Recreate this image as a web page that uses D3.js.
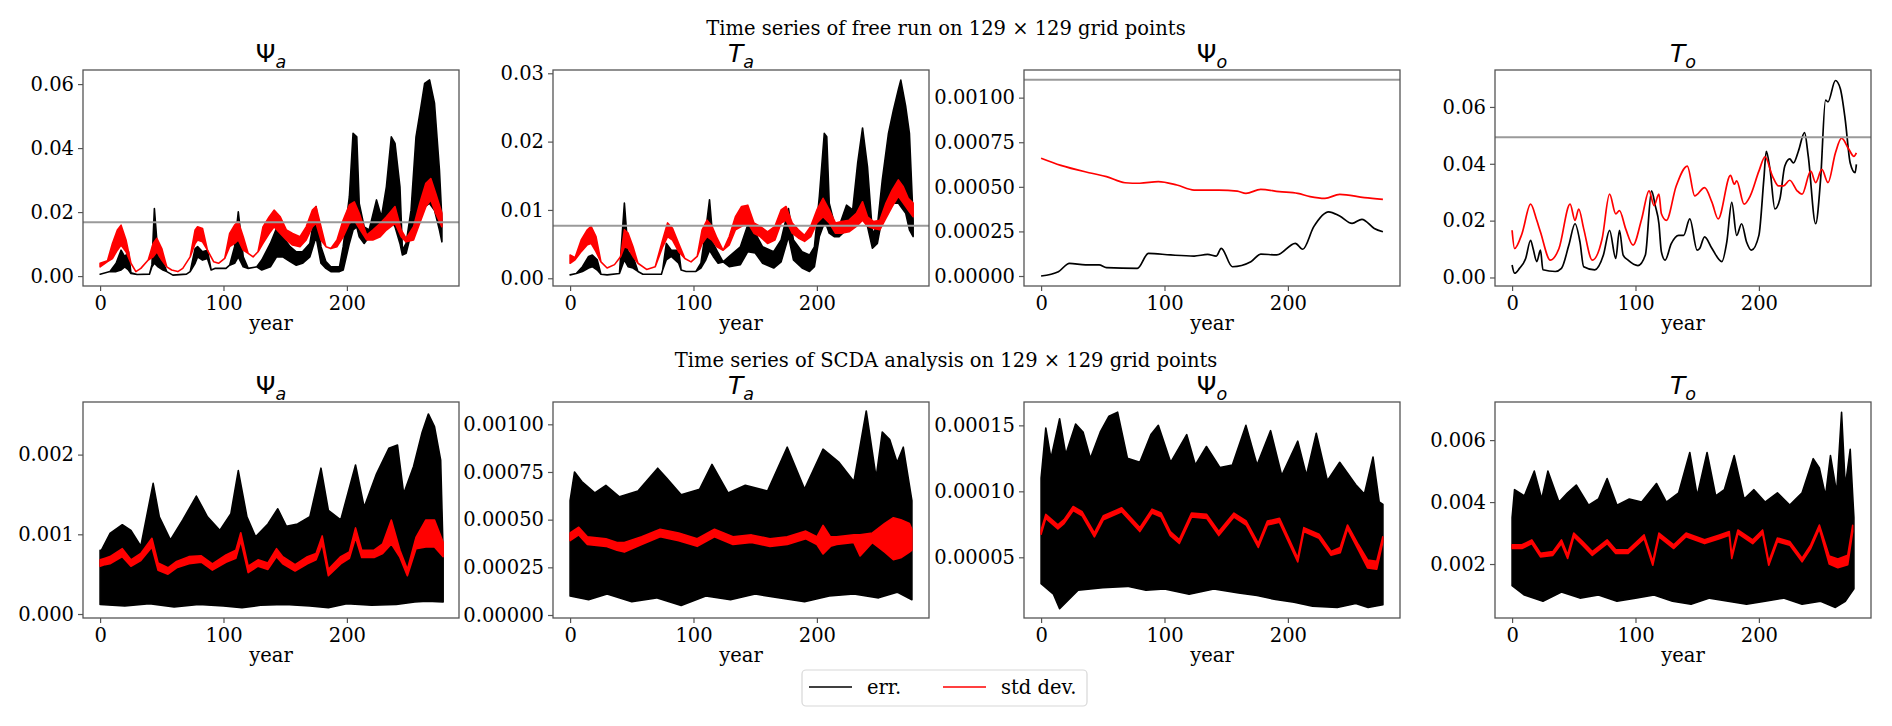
<!DOCTYPE html>
<html>
<head>
<meta charset="utf-8">
<script src="https://cdn.jsdelivr.net/npm/d3@7"></script>
<style>
  body { margin: 0; background: #fff; }
  svg { display: block; }
</style>
</head>
<body>
<svg id="chart"></svg>
<script>
// ---- data (year, value) ----
const xTicks = [0, 100, 200];
const varNames = [['Ψ', 'a', false], ['T', 'a', true], ['Ψ', 'o', false], ['T', 'o', true]];
const rowTitles = ['Time series of free run on 129 × 129 grid points',
                   'Time series of SCDA analysis on 129 × 129 grid points'];
const legendLabels = ['err.', 'std dev.'];

// free run, [year, low, high] of the fast oscillation band
const psiAFreeErr = [[0,.0006,.0006],[8,.0014,.0014],[13,.0014,.0040],[17,.0019,.0081],[20,.0029,.0060],[23,.0019,.0076],[25,.0008,.0010],[30,.0005,.0005],[40,.0006,.0006],[42,.0029,.0035],[44,.0040,.0211],[47,.0029,.0060],[51,.0019,.0045],[54,.0014,.0014],[59,.0003,.0003],[70,.0006,.0006],[73,.0014,.0014],[77,.0040,.0086],[79,.0060,.0092],[83,.0050,.0076],[87,.0055,.0081],[90,.0019,.0019],[93,.0024,.0024],[102,.0024,.0024],[105,.0034,.0034],[109,.0040,.0092],[112,.0060,.0201],[116,.0029,.0060],[120,.0024,.0024],[127,.0029,.0029],[131,.0019,.0050],[138,.0029,.0102],[143,.0060,.0149],[148,.0060,.0123],[154,.0045,.0092],[159,.0034,.0076],[164,.0040,.0076],[170,.0060,.0102],[175,.0123,.0217],[179,.0040,.0092],[183,.0024,.0045],[187,.0014,.0029],[194,.0014,.0029],[197,.0019,.0092],[202,.0102,.0248],[205,.0144,.0446],[208,.0154,.0435],[210,.0123,.0227],[214,.0102,.0154],[218,.0123,.0144],[224,.0133,.0238],[228,.0154,.0185],[232,.0165,.0279],[236,.0175,.0435],[239,.0154,.0415],[243,.0102,.0279],[245,.0066,.0081],[248,.0071,.0102],[252,.0133,.0206],[256,.0165,.0435],[260,.0185,.0529],[263,.0217,.0602],[267,.0227,.0613],[271,.0206,.0540],[275,.0144,.0331],[277,.0107,.0175]];
const psiAFreeStd = [[0,.0029,.0040],[6,.0045,.0048],[10,.0055,.0102],[14,.0081,.0144],[17,.0097,.0159],[21,.0076,.0113],[25,.0040,.0040],[29,.0014,.0014],[33,.0024,.0024],[39,.0050,.0050],[43,.0060,.0102],[46,.0076,.0118],[50,.0050,.0086],[54,.0029,.0029],[58,.0019,.0019],[63,.0014,.0014],[67,.0024,.0024],[73,.0060,.0060],[77,.0102,.0144],[79,.0113,.0154],[83,.0107,.0149],[87,.0081,.0081],[92,.0045,.0045],[96,.0040,.0040],[101,.0055,.0055],[105,.0092,.0133],[109,.0102,.0159],[112,.0113,.0170],[116,.0081,.0123],[120,.0071,.0071],[124,.0060,.0060],[128,.0076,.0076],[132,.0102,.0154],[137,.0133,.0185],[141,.0154,.0206],[146,.0133,.0185],[151,.0113,.0144],[156,.0097,.0133],[162,.0092,.0123],[167,.0113,.0154],[172,.0154,.0206],[175,.0165,.0217],[179,.0113,.0154],[183,.0092,.0092],[187,.0086,.0086],[192,.0092,.0113],[197,.0123,.0175],[202,.0165,.0222],[206,.0175,.0232],[210,.0149,.0196],[216,.0113,.0128],[221,.0113,.0144],[227,.0123,.0165],[232,.0144,.0185],[239,.0165,.0217],[244,.0123,.0144],[248,.0107,.0118],[254,.0113,.0154],[259,.0165,.0227],[264,.0217,.0290],[268,.0238,.0305],[272,.0196,.0258],[277,.0154,.0196]];

const taFreeErr = [[0,.0005,.0005],[5,.0007,.0007],[10,.0010,.0017],[15,.0015,.0032],[18,.0017,.0034],[22,.0012,.0027],[25,.0006,.0006],[30,.0005,.0005],[40,.0007,.0007],[44,.0027,.0110],[47,.0017,.0039],[51,.0015,.0032],[55,.0010,.0010],[59,.0006,.0006],[74,.0006,.0006],[75,.0012,.0012],[78,.0027,.0051],[82,.0032,.0041],[88,.0022,.0041],[90,.0012,.0012],[94,.0010,.0010],[102,.0010,.0010],[106,.0015,.0022],[110,.0027,.0071],[113,.0041,.0115],[116,.0032,.0051],[120,.0022,.0037],[124,.0024,.0024],[129,.0017,.0032],[138,.0020,.0046],[144,.0039,.0078],[150,.0037,.0066],[156,.0022,.0046],[165,.0015,.0039],[171,.0024,.0056],[177,.0061,.0102],[181,.0027,.0056],[188,.0015,.0039],[194,.0010,.0034],[198,.0017,.0046],[202,.0061,.0120],[206,.0081,.0212],[208,.0076,.0207],[210,.0066,.0110],[214,.0061,.0081],[218,.0061,.0076],[224,.0071,.0107],[229,.0076,.0100],[233,.0081,.0168],[237,.0090,.0220],[241,.0076,.0163],[245,.0044,.0066],[249,.0051,.0076],[253,.0090,.0144],[258,.0100,.0212],[262,.0110,.0246],[266,.0110,.0276],[268,.0105,.0290],[272,.0095,.0251],[275,.0071,.0212],[278,.0061,.0085]];
const taFreeStd = [[0,.0022,.0034],[4,.0027,.0030],[9,.0039,.0056],[14,.0049,.0071],[17,.0051,.0076],[21,.0039,.0061],[25,.0024,.0024],[30,.0015,.0015],[36,.0020,.0020],[41,.0032,.0032],[44,.0046,.0071],[47,.0044,.0066],[51,.0032,.0046],[55,.0022,.0022],[62,.0013,.0013],[69,.0017,.0017],[75,.0046,.0056],[79,.0061,.0081],[83,.0056,.0073],[88,.0039,.0051],[93,.0029,.0029],[98,.0024,.0024],[103,.0032,.0032],[107,.0051,.0071],[111,.0061,.0085],[115,.0056,.0076],[119,.0046,.0059],[124,.0041,.0041],[129,.0049,.0061],[134,.0071,.0090],[139,.0076,.0105],[144,.0081,.0107],[149,.0066,.0081],[154,.0061,.0076],[160,.0051,.0068],[166,.0056,.0076],[171,.0081,.0100],[175,.0085,.0105],[180,.0066,.0081],[185,.0059,.0071],[190,.0054,.0063],[195,.0061,.0076],[200,.0081,.0100],[205,.0090,.0117],[210,.0081,.0100],[215,.0066,.0081],[220,.0066,.0083],[226,.0068,.0085],[232,.0076,.0095],[237,.0085,.0112],[241,.0076,.0090],[246,.0073,.0083],[251,.0071,.0085],[256,.0088,.0110],[261,.0105,.0129],[266,.0120,.0144],[270,.0110,.0134],[274,.0100,.0117],[278,.0090,.0110]];

const psiOFreeErr = [[0,0],[14,.000024],[23,.000071],[36,.000062],[47,.000062],[53,.000047],[78,.000043],[87,.000127],[105,.000118],[124,.000112],[135,.000121],[142,.000112],[146,.000155],[155,.000052],[170,.00008],[178,.000123],[191,.000118],[206,.000183],[212,.00015],[221,.000277],[233,.00036],[242,.000336],[252,.000295],[260,.000318],[270,.000267],[277,.000248]];
const psiOFreeStd = [[0,.00066],[16,.00062],[41,.000576],[53,.000557],[68,.000523],[80,.00052],[95,.000529],[110,.00051],[124,.000482],[144,.000482],[159,.000476],[166,.000463],[178,.000486],[193,.000473],[208,.000463],[218,.000445],[230,.000435],[242,.000458],[262,.00044],[277,.00043]];

const toFreeErr = [[0,.0044],[2,.0015],[6,.0032],[11,.0067],[15,.0131],[17,.0102],[20,.0056],[23,.0096],[25,.0027],[35,.0021],[40,.0032],[46,.0114],[51,.0189],[55,.0125],[58,.0038],[67,.0027],[74,.0079],[79,.0166],[84,.0067],[87,.0166],[90,.0079],[94,.0061],[102,.0042],[108,.0079],[113,.0305],[116,.0253],[119,.0189],[121,.0090],[124,.0061],[129,.0119],[135,.0148],[139,.0148],[144,.0206],[150,.0096],[152,.0102],[156,.0143],[162,.0102],[170,.0056],[174,.0125],[178,.0264],[182,.0148],[186,.0189],[190,.0125],[194,.0096],[200,.0148],[204,.0345],[206,.0444],[209,.0380],[213,.0241],[217,.0276],[221,.0392],[225,.0417],[228,.0403],[232,.0444],[237,.0510],[240,.0427],[246,.0189],[250,.0345],[254,.0624],[256,.0618],[262,.0693],[266,.0664],[270,.0554],[274,.0403],[278,.0369],[279,.0398]];
const toFreeStd = [[0,.0166],[2,.0102],[8,.0154],[15,.0258],[20,.0201],[23,.0160],[31,.0061],[38,.0102],[47,.0258],[51,.0201],[54,.0241],[58,.0172],[65,.0061],[73,.0137],[79,.0293],[84,.0224],[87,.0235],[92,.0172],[98,.0114],[105,.0206],[111,.0305],[115,.0253],[119,.0293],[121,.0224],[125,.0201],[133,.0322],[142,.0392],[148,.0287],[156,.0316],[162,.0264],[167,.0206],[177,.0359],[180,.0328],[182,.0340],[188,.0258],[193,.0287],[200,.0374],[205,.0424],[211,.0357],[216,.0322],[220,.0322],[225,.0342],[231,.0305],[235,.0293],[242,.0374],[246,.0334],[251,.0380],[256,.0334],[262,.0438],[267,.0490],[273,.0450],[277,.0426],[279,.0438]];

// SCDA analysis: upper / lower envelope of the noisy error, band of the std dev
const psiAScdaErrUp = [[0,.0008],[1,.00080],[8,.00101],[18,.00112],[25,.00105],[33,.00085],[43,.00164],[48,.00122],[57,.00093],[67,.00118],[78,.00148],[87,.00122],[97,.00105],[106,.00126],[112,.0018],[119,.00122],[126,.00097],[136,.00113],[144,.00132],[151,.0011],[160,.00113],[170,.00122],[179,.00183],[185,.0013],[195,.00118],[207,.00187],[214,.00134],[224,.00176],[234,.00208],[241,.00212],[246,.00151],[254,.00185],[261,.00228],[266,.00251],[271,.00235],[276,.00193],[278,.00076]];
const psiAScdaErrLow = [[0,.00012],[20,.00010],[40,.00013],[60,.00009],[80,.00012],[100,.00010],[115,.00008],[130,.00011],[150,.00012],[170,.00010],[185,.00008],[200,.00013],[220,.00011],[240,.00012],[255,.00015],[265,.00016],[278,.00015]];
const psiAScdaStd = [[0,.00060,.00068],[4,.00062,.00070],[8,.00063,.00072],[18,.00072,.00082],[25,.00060,.00068],[33,.00067,.00076],[42,.00084,.00095],[47,.00055,.00064],[55,.00050,.00058],[62,.00058,.00066],[72,.00063,.00072],[82,.00065,.00073],[91,.00055,.00063],[102,.00065,.00074],[110,.00070,.00080],[114,.00092,.00102],[120,.00052,.00060],[128,.00060,.00068],[136,.00056,.00064],[143,.00072,.00082],[148,.00063,.00072],[158,.00054,.00062],[168,.00063,.00072],[175,.00068,.00076],[180,.00088,.00098],[185,.00048,.00056],[195,.00063,.00072],[202,.00070,.00078],[207,.00096,.00108],[212,.00071,.00080],[222,.00071,.00080],[229,.00076,.00088],[236,.00088,.00118],[243,.00071,.00080],[249,.00048,.00056],[256,.00082,.00096],[264,.00084,.00118],[271,.00084,.00118],[278,.00072,.00090]];

const taScdaErrUp = [[0,.00060],[3.6,.00075],[9.5,.00070],[20,.00064],[29,.00068],[40,.00062],[55,.00065],[71,.00077],[78,.00072],[90,.00063],[105,.00066],[115,.00079],[128,.00064],[142,.00068],[160,.00065],[176,.00088],[190,.00066],[205,.00087],[218,.00080],[230,.00070],[240,.00107],[248,.00072],[253,.00096],[259,.00092],[265,.00080],[270,.00088],[275,.00068],[277,.00060]];
const taScdaErrLow = [[0,.00010],[15,.00008],[30,.00011],[50,.00007],[70,.00009],[90,.00005],[110,.00010],[130,.00008],[150,.00011],[170,.00009],[190,.00007],[210,.00010],[230,.00011],[250,.00009],[265,.00012],[277,.00008]];
const taScdaStd = [[0,.00039,.00043],[7,.00042,.00046],[14,.00037,.00041],[29,.00036,.00040],[38,.00034,.00038],[44,.00033,.00038],[58,.00037,.00041],[73,.00041,.00045],[88,.00039,.00043],[103,.00036,.00040],[117,.00041,.00045],[132,.00037,.00041],[147,.00038,.00042],[162,.00036,.00040],[176,.00037,.00041],[191,.00040,.00044],[200,.00037,.00041],[205,.00032,.00047],[211,.00036,.00041],[216,.00037,.00041],[230,.00038,.00042],[235,.00031,.00042],[245,.00038,.00043],[255,.00033,.00048],[262,.00029,.00051],[268,.00030,.00050],[275,.00033,.00048],[277,.00034,.00045]];

const psiOScdaErrUp = [[0,.00011],[3.8,.000148],[8,.000125],[15,.000155],[20,.000128],[28,.000151],[34,.000145],[40,.000125],[48,.000145],[55,.000157],[62,.00016],[70,.000125],[80,.000122],[89,.000143],[95,.00015],[105,.000122],[118,.000143],[125,.00012],[134,.000134],[145,.000118],[155,.00012],[166,.00015],[175,.00012],[186,.000146],[195,.000112],[208,.000138],[215,.000112],[223,.000144],[232,.000108],[242,.000122],[255,.000105],[262,.000098],[269,.000126],[274,.000092],[277,.00009]];
const psiOScdaErrLow = [[0,.00003],[10,.000022],[15,.000011],[30,.000025],[50,.000027],[70,.000028],[85,.000025],[100,.000026],[120,.000022],[140,.000026],[160,.000023],[175,.000021],[190,.000018],[205,.000016],[220,.000013],[240,.000012],[255,.000015],[265,.000012],[277,.000014]];
const psiOScdaStd = [[0,.0000675,.0000705],[3.8,.0000795,.0000825],[13.6,.0000715,.0000745],[18.6,.0000755,.0000785],[26,.0000855,.0000885],[33.3,.0000815,.0000845],[43.2,.0000655,.0000685],[50.5,.0000785,.0000815],[65.3,.0000845,.0000875],[80,.0000695,.0000725],[89.9,.0000835,.0000865],[97.3,.0000805,.0000835],[104.7,.0000665,.0000695],[112,.0000605,.0000635],[121.9,.0000805,.0000835],[134.2,.0000795,.0000825],[144,.0000665,.0000695],[156.3,.0000805,.0000835],[166.2,.0000745,.0000775],[176,.0000575,.0000605],[183.4,.0000745,.0000775],[193.2,.0000765,.0000795],[200.6,.0000615,.0000645],[208,.0000465,.0000495],[212.9,.0000695,.0000725],[225.2,.0000645,.0000675],[235,.0000515,.0000545],[242.4,.0000535,.0000575],[248.3,.0000715,.0000745],[257.2,.0000555,.0000595],[264.6,.000042,.000048],[272,.000041,.000047],[276.9,.0000615,.0000655]];

const toScdaErrUp = [[0,.0035],[2,.0044],[10,.0042],[18,.0050],[24,.0041],[29,.0050],[38,.0040],[45,.0043],[52,.00455],[62,.0039],[70,.0041],[77,.00476],[85,.0039],[95,.0041],[105,.0040],[117,.0046],[125,.0040],[135,.0043],[144,.0056],[150,.0042],[158,.0056],[165,.0042],[172,.0044],[180,.0055],[188,.0041],[196,.0044],[205,.0040],[215,.0043],[225,.0039],[235,.0043],[244,.0054],[249,.0051],[254,.0042],[258,.0055],[263,.0043],[267,.0069],[270,.0045],[274,.0057],[277,.0035]];
const toScdaErrLow = [[0,.0013],[10,.0010],[25,.0008],[40,.0011],[55,.0009],[70,.0010],[85,.0008],[100,.0009],[115,.0010],[130,.0008],[145,.0007],[160,.0009],[175,.0008],[190,.0007],[205,.0008],[220,.0009],[235,.0007],[250,.0008],[262,.0006],[270,.0008],[277,.0012]];
const toScdaStd = [[0,.00250,.00262],[8,.00250,.00262],[16,.00266,.00278],[23,.00223,.00235],[33,.00228,.00240],[40,.00266,.00278],[45,.00218,.00230],[50,.00288,.00300],[57,.00261,.00273],[65,.00228,.00240],[77,.00266,.00278],[84,.00234,.00246],[94,.00234,.00246],[107,.00282,.00294],[114,.00196,.00208],[119,.00288,.00300],[131,.00250,.00262],[141,.00288,.00300],[156,.00266,.00278],[168,.00282,.00294],[176,.00293,.00305],[178,.00218,.00230],[183,.00298,.00310],[195,.00266,.00278],[203,.00298,.00310],[208,.00196,.00208],[215,.00272,.00284],[225,.00261,.00273],[235,.00207,.00219],[242,.00250,.00262],[249,.00314,.00326],[257,.00200,.00226],[264,.00188,.00216],[272,.00198,.00228],[276,.00305,.00325]];

const yTicksPsiAFree = [0, 0.02, 0.04, 0.06];
const yTicksTaFree = [0, 0.01, 0.02, 0.03];
const yTicksPsiOFree = [0, 0.00025, 0.0005, 0.00075, 0.001];
const yTicksToFree = [0, 0.02, 0.04, 0.06];
const yTicksPsiAScda = [0, 0.001, 0.002];
const yTicksTaScda = [0, 0.00025, 0.0005, 0.00075, 0.001];
const yTicksPsiOScda = [0.00005, 0.0001, 0.00015];
const yTicksToScda = [0.002, 0.004, 0.006];

// reference level drawn in grey on the free run panels
const refLevels = [0.0168, 0.0077, 0.0011, 0.0493];

// ---- layout ----
const width = 1892, height = 726;
const colX = [83, 553, 1024, 1495];
const rowY = [70, 402];
const pw = 376, ph = 216;
const xDomain = [-13.85, 290.85];
const serif = '"DejaVu Serif", serif';
const fs = 19.5;

const panels = [
  { row: 0, col: 0, dom: [-0.0031, 0.0644], ticks: yTicksPsiAFree, fmt: '.2f', ref: refLevels[0],
    err: { kind: 'band', data: psiAFreeErr }, std: { kind: 'band', data: psiAFreeStd } },
  { row: 0, col: 1, dom: [-0.00113, 0.03048], ticks: yTicksTaFree, fmt: '.2f', ref: refLevels[1],
    err: { kind: 'band', data: taFreeErr }, std: { kind: 'band', data: taFreeStd } },
  { row: 0, col: 2, dom: [-0.000056, 0.001155], ticks: yTicksPsiOFree, fmt: '.5f', ref: refLevels[2],
    err: { kind: 'line', data: psiOFreeErr }, std: { kind: 'line', data: psiOFreeStd } },
  { row: 0, col: 3, dom: [-0.003, 0.0730], ticks: yTicksToFree, fmt: '.2f', ref: refLevels[3],
    err: { kind: 'line', data: toFreeErr }, std: { kind: 'line', data: toFreeStd } },
  { row: 1, col: 0, dom: [-0.00005, 0.00266], ticks: yTicksPsiAScda, fmt: '.3f',
    err: { kind: 'env', up: psiAScdaErrUp, low: psiAScdaErrLow }, std: { kind: 'band', data: psiAScdaStd } },
  { row: 1, col: 1, dom: [-0.0000157, 0.001117], ticks: yTicksTaScda, fmt: '.5f',
    err: { kind: 'env', up: taScdaErrUp, low: taScdaErrLow }, std: { kind: 'band', data: taScdaStd } },
  { row: 1, col: 2, dom: [0.000004, 0.0001677], ticks: yTicksPsiOScda, fmt: '.5f',
    err: { kind: 'env', up: psiOScdaErrUp, low: psiOScdaErrLow }, std: { kind: 'band', data: psiOScdaStd } },
  { row: 1, col: 3, dom: [0.000258, 0.00723], ticks: yTicksToScda, fmt: '.3f',
    err: { kind: 'env', up: toScdaErrUp, low: toScdaErrLow }, std: { kind: 'band', data: toScdaStd } },
];

const svg = d3.select('#chart').attr('width', width).attr('height', height);
svg.append('rect').attr('width', width).attr('height', height).attr('fill', '#fff');
const defs = svg.append('defs');

function drawSeries(g, s, color, x, y) {
  if (s.kind === 'line') {
    const line = d3.line().curve(d3.curveMonotoneX).x(d => x(d[0])).y(d => y(d[1]));
    g.append('path').attr('d', line(s.data))
      .attr('fill', 'none').attr('stroke', color).attr('stroke-width', 1.7)
      .attr('stroke-linejoin', 'round');
    return;
  }
  // closed band: upper edge forwards, lower edge back
  let up, low;
  if (s.kind === 'band') {
    up = s.data.map(d => [d[0], d[2]]);
    low = s.data.map(d => [d[0], d[1]]);
  } else {
    up = s.up;
    low = s.low;
  }
  const line = d3.line().x(d => x(d[0])).y(d => y(d[1]));
  g.append('path').attr('d', line(up.concat(low.slice().reverse())) + 'Z')
    .attr('fill', color).attr('stroke', color).attr('stroke-width', 1.6)
    .attr('stroke-linejoin', 'round');
}

panels.forEach((p, i) => {
  const x0 = colX[p.col], y0 = rowY[p.row];
  const x = d3.scaleLinear().domain(xDomain).range([x0, x0 + pw]);
  const y = d3.scaleLinear().domain(p.dom).range([y0 + ph, y0]);

  defs.append('clipPath').attr('id', 'clip' + i)
    .append('rect').attr('x', x0).attr('y', y0).attr('width', pw).attr('height', ph);

  const plot = svg.append('g').attr('clip-path', `url(#clip${i})`);
  drawSeries(plot, p.err, '#000', x, y);
  drawSeries(plot, p.std, '#ff0000', x, y);
  if (p.ref !== undefined) {
    plot.append('line')
      .attr('x1', x0).attr('x2', x0 + pw).attr('y1', y(p.ref)).attr('y2', y(p.ref))
      .attr('stroke', '#9a9a9a').attr('stroke-width', 2);
  }

  // frame
  svg.append('rect').attr('x', x0).attr('y', y0).attr('width', pw).attr('height', ph)
    .attr('fill', 'none').attr('stroke', '#555').attr('stroke-width', 1.3);

  // axes
  const xAxis = svg.append('g').attr('transform', `translate(0,${y0 + ph})`)
    .call(d3.axisBottom(x).tickValues(xTicks).tickSize(5).tickPadding(5).tickFormat(d3.format('d')));
  const yAxis = svg.append('g').attr('transform', `translate(${x0},0)`)
    .call(d3.axisLeft(y).tickValues(p.ticks).tickSize(5).tickPadding(4).tickFormat(d3.format(p.fmt)));
  [xAxis, yAxis].forEach(a => {
    a.select('.domain').remove();
    a.attr('font-family', serif).attr('font-size', fs).attr('color', '#555');
    a.selectAll('text').attr('fill', '#000');
    a.selectAll('line').attr('stroke-width', 1.2);
  });

  // panel title, mathtext style: symbol plus italic subscript
  const name = varNames[p.col];
  const t = svg.append('text').attr('x', x0 + pw / 2).attr('y', y0 - 8)
    .attr('text-anchor', 'middle').attr('font-family', '"DejaVu Sans", sans-serif')
    .attr('font-size', 25).attr('fill', '#000');
  t.append('tspan').attr('font-style', name[2] ? 'italic' : 'normal').text(name[0]);
  t.append('tspan').attr('font-style', 'italic').attr('font-size', 17.5).attr('dy', 6).text(name[1]);

  svg.append('text').attr('x', x0 + pw / 2).attr('y', y0 + ph + 44)
    .attr('text-anchor', 'middle').attr('font-family', serif).attr('font-size', fs)
    .attr('fill', '#000').text('year');
});

// row titles
rowTitles.forEach((txt, r) => {
  svg.append('text').attr('x', 946).attr('y', r === 0 ? 35 : 367)
    .attr('text-anchor', 'middle').attr('font-family', serif).attr('font-size', fs)
    .attr('fill', '#000').text(txt);
});

// legend
const leg = svg.append('g');
leg.append('rect').attr('x', 802).attr('y', 670).attr('width', 285).attr('height', 36).attr('rx', 4)
  .attr('fill', '#fff').attr('stroke', '#d8d8d8').attr('stroke-width', 1.2);
const legendColors = ['#000', '#ff0000'];
const legendX = [809, 943];
legendLabels.forEach((lab, k) => {
  leg.append('line').attr('x1', legendX[k]).attr('x2', legendX[k] + 43).attr('y1', 687).attr('y2', 687)
    .attr('stroke', legendColors[k]).attr('stroke-width', 1.7);
  leg.append('text').attr('x', legendX[k] + 58).attr('y', 694)
    .attr('font-family', serif).attr('font-size', fs).attr('fill', '#000').text(lab);
});
</script>
</body>
</html>
